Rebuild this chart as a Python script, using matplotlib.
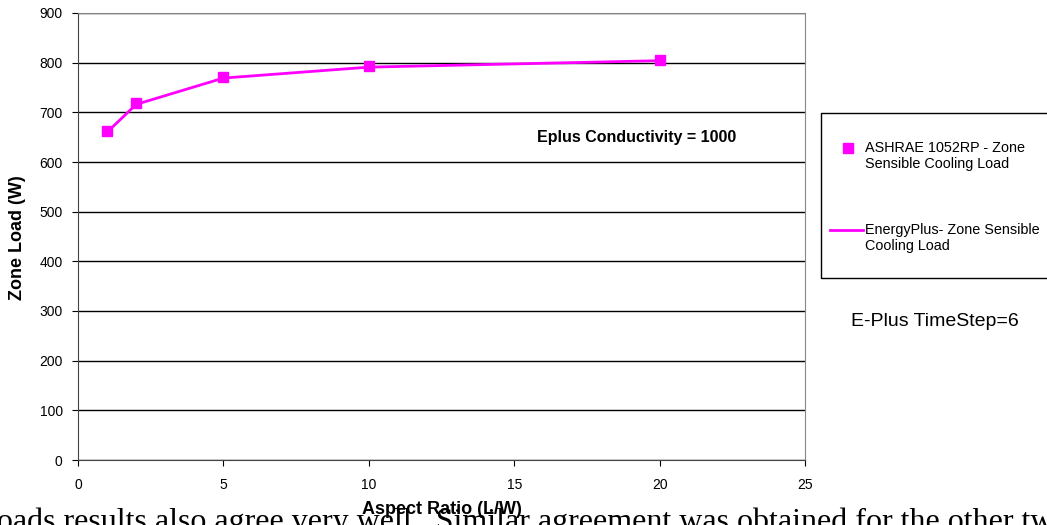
import matplotlib
matplotlib.use("Agg")
import matplotlib.pyplot as plt
from matplotlib.patches import Rectangle
from matplotlib.lines import Line2D

plt.rcParams['font.family'] = ['Liberation Sans', 'DejaVu Sans']

# data
aspect_ratio = [1, 2, 5, 10, 20]
ashrae_load = [662, 718, 771, 793, 805]
eplus_load = [660, 716, 769, 791, 804]

MAGENTA = '#ff00ff'
W, H = 1047, 525

def fx(px):
    return px / W

def fy(py):
    return 1 - py / H

fig = plt.figure(figsize=(10.47, 5.25), dpi=100)
ax = fig.add_axes([fx(78), fy(460), (805-78)/W, (460-13)/H])

ax.plot(aspect_ratio, eplus_load, color=MAGENTA, lw=2, zorder=3)
ax.plot(aspect_ratio, ashrae_load, ls='none', marker='s', ms=7, color=MAGENTA,
        zorder=4)

ax.set_xlim(0, 25)
ax.set_ylim(0, 900)
ax.set_xticks(range(0, 26, 5))
ax.set_yticks(range(0, 901, 100))
ax.grid(axis='y', color='black', lw=1)
ax.set_axisbelow(True)
for s in ['top', 'right']:
    ax.spines[s].set_color('#888888')
ax.spines['left'].set_color('#444444')
ax.spines['bottom'].set_color('#444444')
ax.tick_params(labelsize=10, length=4, direction='out')
ax.tick_params(axis='x', pad=9)
ax.tick_params(axis='y', pad=7)

fig.text(fx(18), fy(238), 'Zone Load (W)', rotation=90, fontsize=13,
         fontweight='bold', ha='center', va='center')
fig.text(fx(442), fy(510), 'Aspect Ratio (L/W)', fontsize=13,
         fontweight='bold', ha='center', va='center', zorder=5)

ax.text(19.2, 650, 'Eplus Conductivity = 1000', fontsize=11.5,
        fontweight='bold', ha='center', va='center')

# legend box, drawn by hand (runs off the right edge)
fig.patches.append(Rectangle((fx(821), fy(278)), 0.3, (278-113)/H,
                             transform=fig.transFigure, fill=False,
                             edgecolor='black', lw=1))
fig.add_artist(Line2D([fx(848)], [fy(148)], marker='s', ms=7, ls='none',
                      color=MAGENTA, transform=fig.transFigure))
fig.add_artist(Line2D([fx(830), fx(863)], [fy(230), fy(230)], lw=2,
                      color=MAGENTA, transform=fig.transFigure))
fig.text(fx(865), fy(141), 'ASHRAE 1052RP - Zone\nSensible Cooling Load',
         fontsize=10.4, ha='left', va='top', linespacing=1.15)
fig.text(fx(865), fy(223), 'EnergyPlus- Zone Sensible\nCooling Load',
         fontsize=10.4, ha='left', va='top', linespacing=1.15)

fig.text(fx(935), fy(321), 'E-Plus TimeStep=6', fontsize=14,
         ha='center', va='center')

fig.text(fx(-12), fy(530),
         'loads results also agree very well.  Similar agreement was obtained for the other two',
         family='Liberation Serif', fontsize=23, ha='left', va='baseline')

fig.savefig('out.png', dpi=100)
